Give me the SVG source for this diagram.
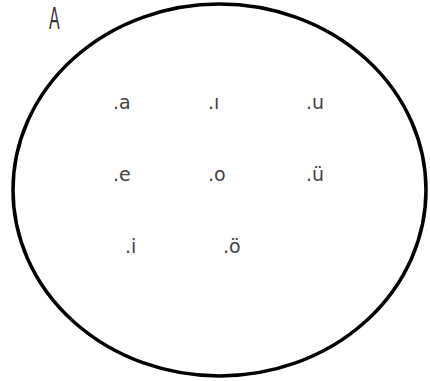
<svg xmlns="http://www.w3.org/2000/svg" width="430" height="381" viewBox="0 0 430 381">
<style>
.v{font-family:"DejaVu Sans","Liberation Sans",sans-serif;font-size:19px;fill:#444}
</style>
<rect width="430" height="381" fill="#fff"/>
<g id="set-A">
<ellipse cx="219.5" cy="190" rx="206.5" ry="186" fill="none" stroke="#000" stroke-width="3.5"/>
<text transform="translate(49,29) scale(0.5,1)" font-family="Liberation Sans, sans-serif" font-size="32" fill="#333">A</text>
</g>
<g id="elements">
<text class="v" x="113" y="109">.a</text>
<text class="v" x="208" y="109">.ı</text>
<text class="v" x="306" y="109">.u</text>
<text class="v" x="113" y="181">.e</text>
<text class="v" x="208" y="181">.o</text>
<text class="v" x="306" y="181">.ü</text>
<text class="v" x="125" y="253">.i</text>
<text class="v" x="223" y="253">.ö</text>
</g>
</svg>
